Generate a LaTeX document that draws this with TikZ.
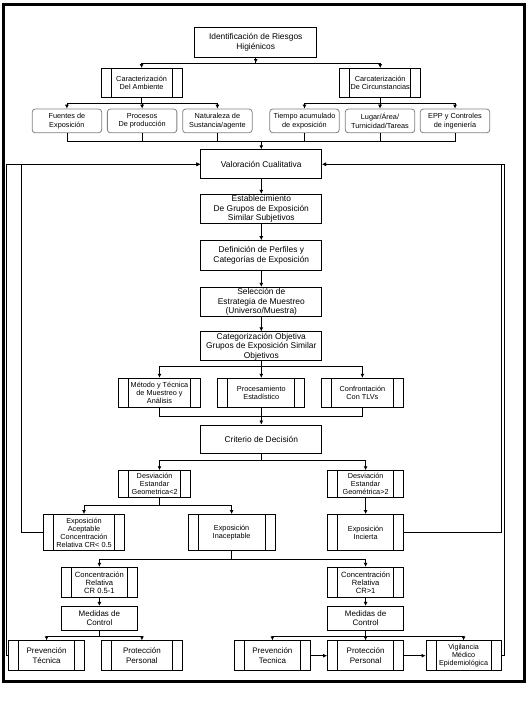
\documentclass[tikz,border=0pt]{standalone}
\usepackage{fontspec}
\setmainfont{Liberation Sans}
\usetikzlibrary{arrows.meta}

\begin{document}
\begin{tikzpicture}[x=1pt, y=-1pt, line width=0.8pt, >={Latex[length=4pt,width=4pt]},
  sz/.style 2 args={minimum width=#1pt, minimum height=#2pt},
  box/.style={draw, rectangle, align=center, inner sep=1pt, font=\fontsize{8.4}{9.5}\selectfont},
  mid/.style={font=\fontsize{8}{9.5}\selectfont},
  proc/.style={box, font=\fontsize{7.3}{8}\selectfont, path picture={
    \draw ([xshift=10pt]path picture bounding box.north west) -- ([xshift=10pt]path picture bounding box.south west);
    \draw ([xshift=-10pt]path picture bounding box.north east) -- ([xshift=-10pt]path picture bounding box.south east);}},
  soft/.style={draw=gray, rounded corners=3pt, align=center, inner sep=1pt, sz={69.5}{23.7}, font=\fontsize{7.3}{8.5}\selectfont}]
  \useasboundingbox (0,0) rectangle (531,725);
  \draw [line width=3pt] (3.8,4.4) rectangle (524.2,681);

  % top
  \node (ident) at (255.7,42.4) [box, sz={121.9}{29.1}] {Identificación de Riesgos\\Higiénicos};
  \node (amb) at (141.6,83) [proc, sz={81.3}{29.1}] {Caracterización\\Del Ambiente};
  \node (circ) at (380.2,83) [proc, sz={80.9}{29.1}] {Carcaterización\\De Circunstancias};
  \node (fue) at (66.9,120.9) [soft] {Fuentes de\\Exposición};
  \node (pro) at (142.1,120.9) [soft] {Procesos\\De producción};
  \node (nat) at (217.4,120.9) [soft] {Naturaleza de\\Sustancia/agente};
  \node (tie) at (304.5,120.9) [soft] {Tiempo acumulado\\de exposición};
  \node (lug) at (380,120.9) [soft] {Lugar/Área/\\Turnicidad/Tareas};
  \node (epp) at (455,120.9) [soft] {EPP y Controles\\de ingeniería};

  % central column
  \node (val) at (261.3,164.3) [box, sz={120.9}{29.1}] {Valoración Cualitativa};
  \node (est) at (261.3,208.9) [box, sz={120.9}{29.4}] {Establecimiento\\De Grupos de Exposición\\Similar Subjetivos};
  \node (def) at (261.3,255.5) [box, sz={120.9}{29.8}] {Definición de Perfiles y\\Categorías de Exposición};
  \node (sel) at (261.3,302) [box, sz={120.9}{29.5}] {Selección de\\Estrategia de Muestreo\\(Universo/Muestra)};
  \node (cat) at (261.3,346.3) [box, sz={120.9}{28.7}] {Categorización Objetiva\\Grupos de Exposición Similar\\Objetivos};
  \node (met) at (159.5,392.6) [proc, sz={82}{28.8}] {Método y Técnica\\de Muestreo y\\Análisis};
  \node (prc) at (261.3,392.6) [proc, sz={87}{28.8}] {Procesamiento\\Estadístico};
  \node (con) at (362.4,392.6) [proc, sz={82.7}{28.8}] {Confrontación\\Con TLVs};
  \node (cri) at (261.3,439) [box, sz={120.9}{28.1}] {Criterio de Decisión};

  % decision
  \node (d1) at (154.6,483.8) [proc, sz={72.2}{26.3}] {Desviación\\Estandar\\Geometrica<2};
  \node (d2) at (365.6,483.8) [proc, sz={76.2}{26.3}] {Desviación\\Estandar\\Geométrica>2};
  \node (ace) at (84,532.4) [proc, sz={81.3}{35.9}] {Exposición\\Aceptable\\Concentración\\Relativa CR< 0.5};
  \node (ina) at (231.6,532.4) [proc, sz={87.4}{35.9}] {Exposición\\Inaceptable};
  \node (inc) at (365.6,532.4) [proc, sz={76.2}{35.9}] {Exposición\\Incierta};
  \node (cr1) at (99.4,582.5) [proc, sz={75.5}{30.5}, font=\fontsize{7.6}{8}\selectfont] {Concentración\\Relativa\\CR 0.5-1};
  \node (cr2) at (365.6,582.5) [proc, sz={76.2}{30.5}, font=\fontsize{7.6}{8}\selectfont] {Concentración\\Relativa\\CR>1};
  \node (med1) at (99.4,618.2) [box, mid, sz={75.5}{23.7}] {Medidas de\\Control};
  \node (med2) at (365.6,618.2) [box, mid, sz={76.2}{23.7}] {Medidas de\\Control};

  % bottom
  \node (pvL) at (46.6,655.7) [proc, mid, sz={76.2}{29.8}] {Prevención\\Técnica};
  \node (ptL) at (141.9,655.7) [proc, mid, sz={80.6}{29.8}] {Protección\\Personal};
  \node (pvR) at (272.4,655.7) [proc, mid, sz={76.2}{29.8}] {Prevención\\Tecnica};
  \node (ptR) at (365.6,655.7) [proc, mid, sz={76.2}{29.8}] {Protección\\Personal};
  \node (vig) at (463.6,655.7) [proc, sz={75.2}{29.8}, font=\fontsize{7.2}{7.8}\selectfont] {Vigilancia\\Médico\\Epidemiológica};

  % connectors
  \draw [->] (ident.south) -- ++(0,5.7);
  \draw [->] (ident.south) -- ++(0,5.7) -| (amb.north);
  \draw [->] (ident.south) -- ++(0,5.7) -| (circ.north);
  \foreach \n in {fue,pro,nat} \draw [->] (amb.south) -- ++(0,5.8) -| (\n.north);
  \foreach \n in {tie,lug,epp} \draw [->] (circ.south) -- ++(0,5.8) -| (\n.north);
  \coordinate (hub) at (261.3,141.5);
  \foreach \n in {fue,pro,nat,tie,lug,epp} \draw (\n.south) |- (hub);
  \draw [->] (hub) -- (val.north);
  \draw [->] (val) -- (est);
  \draw [->] (est) -- (def);
  \draw [->] (def) -- (sel);
  \draw [->] (sel) -- (cat);
  \foreach \n in {met,prc,con} \draw [->] (cat.south) -- ++(0,5.1) -| (\n.north);
  \draw (met.south) -- ++(0,8.8) -| (con.south);
  \draw [->] (prc) -- (cri);
  \draw [->] (cri.south) -- ++(0,7.4) -| (d1.north -| met.south);
  \draw [->] (cri.south) -- ++(0,7.4) -| (d2.north);
  \draw [->] (d1.south -| met.south) -- ++(0,8.2) -| (ace.north);
  \draw [->] (d1.south -| met.south) -- ++(0,8.2) -| (ina.north);
  \draw [->] (d2) -- (inc);
  \draw [->] (ina.south) -- ++(0,9.1) -| (cr1.north);
  \draw [->] (ina.south) -- ++(0,9.1) -| (cr2.north);
  \draw [->] (cr1) -- (med1);
  \draw [->] (cr2) -- (med2);
  \foreach \n in {pvL,ptL} \draw [->] (med1.south) -- ++(0,5.7) -| (\n.north);
  \foreach \n in {pvR,ptR,vig} \draw [->] (med2.south) -- ++(0,5.7) -| (\n.north);
  \draw [->] (pvR) -- (ptR);
  \draw [->] (ptR) -- (vig);

  % feedback
  \draw [->] (pvL.west) -- ++(-1.8,0) |- (val.west);
  \draw [->] (ace.west) -- ++(-22,0) |- (val.west);
  \draw [->] (inc.east) -- ++(97,0) |- (val.east);
  \draw [->] (vig.east) -- ++(2.4,0) |- (val.east);
\end{tikzpicture}
\end{document}
